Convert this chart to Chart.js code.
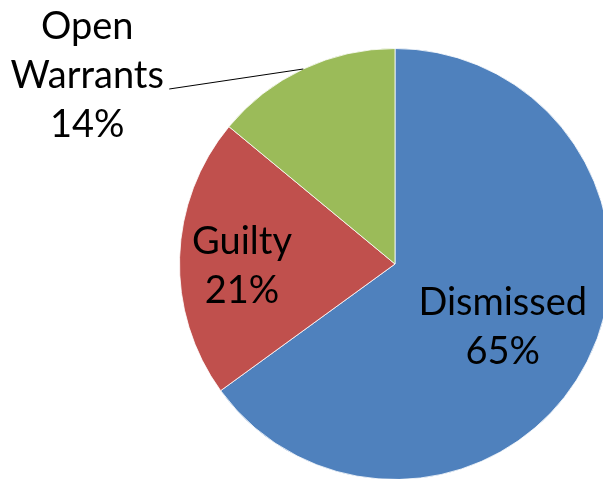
<!DOCTYPE html>
<html>
<head>
<meta charset="utf-8">
<script src="https://cdn.jsdelivr.net/npm/chart.js@4/dist/chart.umd.min.js"></script>
<style>
html,body{margin:0;padding:0;background:#fff;overflow:hidden;width:603px;height:479px;}
#wrap{position:absolute;left:0;top:0;width:640px;height:500px;}
</style>
</head>
<body>
<div id="wrap"><canvas id="c" width="640" height="500"></canvas></div>
<script>
const categories = ["Dismissed", "Guilty", "Open Warrants"];
const labelLines = [["Dismissed"], ["Guilty"], ["Open", "Warrants"]];
const values = [65, 21, 14];
const colors = ["#4F81BD", "#C0504D", "#9BBB59"];

const FONT = '38px Lato';
const LINE_H = 49;

const labelPlugin = {
  id: 'pieLabels',
  afterDatasetsDraw(chart) {
    const ctx = chart.ctx;
    const meta = chart.getDatasetMeta(0);
    const total = values.reduce((a, b) => a + b, 0);
    ctx.save();
    ctx.font = FONT;
    ctx.fillStyle = '#000';
    ctx.textAlign = 'center';
    ctx.textBaseline = 'middle';
    meta.data.forEach((arc, i) => {
      const p = arc.getProps(['x', 'y', 'startAngle', 'endAngle', 'outerRadius'], true);
      const mid = (p.startAngle + p.endAngle) / 2;
      const pct = Math.round(values[i] / total * 100) + '%';
      const lines = labelLines[i].concat([pct]);
      let cx, cy;
      if (i === 2) {
        const ex = p.x + Math.cos(mid) * p.outerRadius;
        const ey = p.y + Math.sin(mid) * p.outerRadius;
        const lx = ex - 134, ly = ey + 20;
        ctx.save();
        ctx.strokeStyle = '#000';
        ctx.lineWidth = 1;
        ctx.beginPath();
        ctx.moveTo(ex, ey);
        ctx.lineTo(lx, ly);
        ctx.stroke();
        ctx.restore();
        cx = lx - 82;
        cy = ly - 13;
      } else if (i === 0) {
        cx = p.x + Math.cos(mid + 0.06) * p.outerRadius * 0.58;
        cy = p.y + Math.sin(mid + 0.06) * p.outerRadius * 0.58;
      } else {
        cx = p.x + Math.cos(mid - 0.045) * p.outerRadius * 0.71;
        cy = p.y + Math.sin(mid - 0.045) * p.outerRadius * 0.71;
      }
      const n = lines.length;
      lines.forEach((t, k) => {
        ctx.fillText(t, cx, cy + (k - (n - 1) / 2) * LINE_H);
      });
    });
    ctx.restore();
  }
};

new Chart(document.getElementById('c'), {
  type: 'pie',
  data: {
    labels: categories,
    datasets: [{
      data: values,
      backgroundColor: colors,
      borderColor: 'rgba(255,255,255,0.8)',
      borderWidth: 1
    }]
  },
  options: {
    responsive: false,
    animation: false,
    layout: { padding: { left: 179, top: 48, right: 29, bottom: 20 } },
    plugins: { legend: { display: false }, tooltip: { enabled: false } }
  },
  plugins: [labelPlugin]
});
</script>
</body>
</html>
